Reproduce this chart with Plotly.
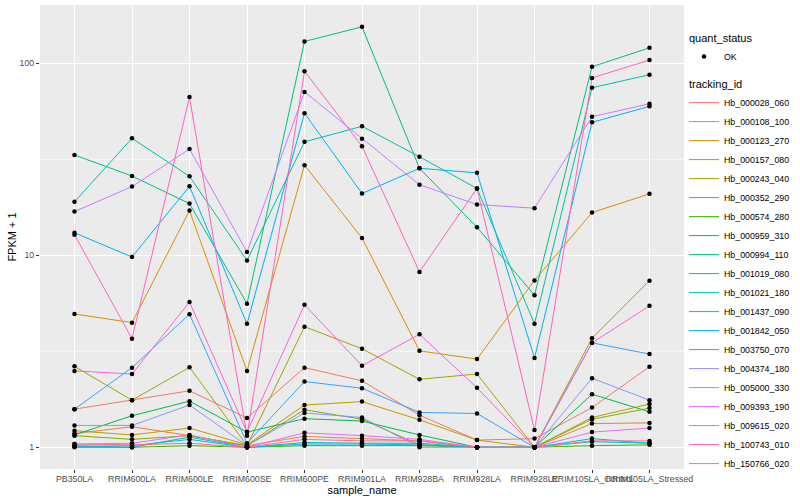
import plotly.graph_objects as go

samples = ["PB350LA", "RRIM600LA", "RRIM600LE", "RRIM600SE", "RRIM600PE", "RRIM901LA",
           "RRIM928BA", "RRIM928LA", "RRIM928LE", "RRIM105LA_Control", "RRIM105LA_Stressed"]

Hb_000028_060 = [1.58, 1.76, 1.97, 1.42, 2.60, 2.22, 1.47, 1.09, 1.11, 1.61, 2.63]
Hb_000108_100 = [1.18, 1.28, 1.15, 1.02, 1.14, 1.11, 1.08, 1.00, 1.00, 1.33, 1.34]
Hb_000123_270 = [4.95, 4.46, 17.1, 2.50, 29.5, 12.3, 3.18, 2.88, 7.40, 16.7, 20.9]
Hb_000157_080 = [1.22, 1.16, 1.26, 1.03, 1.66, 1.73, 1.39, 1.09, 1.00, 1.43, 1.68]
Hb_000243_040 = [2.64, 1.76, 2.61, 1.02, 4.25, 3.26, 2.26, 2.41, 1.00, 3.70, 7.38]
Hb_000352_290 = [1.15, 1.10, 1.15, 1.02, 1.57, 1.40, 1.03, 1.00, 1.00, 1.40, 1.60]
Hb_000574_280 = [1.00, 1.00, 1.02, 1.00, 1.02, 1.02, 1.02, 1.00, 1.00, 1.02, 1.03]
Hb_000959_310 = [1.16, 1.46, 1.74, 1.20, 1.41, 1.37, 1.16, 1.00, 1.00, 1.89, 1.53]
Hb_000994_110 = [33.3, 25.9, 18.6, 5.6, 130.0, 155.0, 28.4, 14.0, 6.2, 96.0, 120.5]
Hb_001019_080 = [19.0, 40.7, 25.8, 9.4, 39.0, 47.0, 32.6, 22.3, 4.4, 74.6, 87.3]
Hb_001021_180 = [1.02, 1.00, 1.13, 1.00, 1.06, 1.05, 1.05, 1.00, 1.00, 1.11, 1.05]
Hb_001437_090 = [1.01, 1.02, 1.10, 1.00, 1.04, 1.04, 1.03, 1.00, 1.00, 1.07, 1.05]
Hb_001842_050 = [13.1, 9.8, 22.9, 4.4, 55.0, 21.0, 28.4, 26.9, 2.92, 49.3, 59.7]
Hb_003750_070 = [1.58, 2.60, 4.94, 1.05, 2.20, 2.03, 1.52, 1.50, 1.00, 3.50, 3.06]
Hb_004374_180 = [1.30, 1.30, 1.66, 1.02, 1.51, 1.43, 1.00, 1.00, 1.00, 2.29, 1.76]
Hb_005000_330 = [16.9, 22.8, 35.8, 10.4, 71.0, 40.5, 23.3, 18.4, 17.6, 52.7, 61.6]
Hb_009393_190 = [1.04, 1.05, 1.16, 1.00, 1.19, 1.15, 1.10, 1.00, 1.00, 1.20, 1.26]
Hb_009615_020 = [2.50, 2.41, 5.71, 1.20, 5.53, 2.66, 3.88, 2.04, 1.00, 3.50, 5.46]
Hb_100743_010 = [12.8, 3.68, 66.7, 1.15, 91.0, 37.0, 8.2, 22.3, 1.23, 84.0, 104.0]
Hb_150766_020 = [1.04, 1.03, 1.05, 1.00, 1.10, 1.08, 1.08, 1.00, 1.00, 1.08, 1.08]

tracking_ids = ["Hb_000028_060", "Hb_000108_100", "Hb_000123_270", "Hb_000157_080", "Hb_000243_040",
                "Hb_000352_290", "Hb_000574_280", "Hb_000959_310", "Hb_000994_110", "Hb_001019_080",
                "Hb_001021_180", "Hb_001437_090", "Hb_001842_050", "Hb_003750_070", "Hb_004374_180",
                "Hb_005000_330", "Hb_009393_190", "Hb_009615_020", "Hb_100743_010", "Hb_150766_020"]
series = [Hb_000028_060, Hb_000108_100, Hb_000123_270, Hb_000157_080, Hb_000243_040,
          Hb_000352_290, Hb_000574_280, Hb_000959_310, Hb_000994_110, Hb_001019_080,
          Hb_001021_180, Hb_001437_090, Hb_001842_050, Hb_003750_070, Hb_004374_180,
          Hb_005000_330, Hb_009393_190, Hb_009615_020, Hb_100743_010, Hb_150766_020]

colors = ["#F8766D", "#EA8331", "#D89000", "#C09B00", "#A3A500", "#7CAE00", "#39B600", "#00BB4E",
          "#00BF7D", "#00C1A3", "#00BFC4", "#00BAE0", "#00B0F6", "#35A2FF", "#9590FF", "#C77CFF",
          "#E76BF3", "#FA62DB", "#FF62BC", "#FF6C91"]

FONT = "Liberation Sans, Arial, sans-serif"
fig = go.Figure()

all_x, all_y = [], []
for vals in series:
    all_x += samples
    all_y += vals

for tid, vals, col in zip(tracking_ids, series, colors):
    fig.add_trace(go.Scatter(
        x=samples, y=vals, mode="lines", name=tid,
        line=dict(color=col, width=1),
        legendgroup="tid", legendgrouptitle=dict(text="tracking_id", font=dict(size=11, color="black")),
        legendrank=2,
    ))

fig.add_trace(go.Scatter(
    x=all_x, y=all_y, mode="markers", name="OK",
    marker=dict(color="black", size=4.5),
    legendgroup="qs", legendgrouptitle=dict(text="quant_status", font=dict(size=11, color="black")),
    legendrank=1,
))

shapes = []
for v in [10 ** 0.5, 10 ** 1.5]:
    shapes.append(dict(type="line", xref="paper", yref="y", x0=0, x1=1, y0=v, y1=v,
                       line=dict(color="white", width=0.6), layer="below"))

fig.update_layout(
    width=800, height=500,
    margin=dict(l=40, r=116, t=5, b=31, autoexpand=False),
    paper_bgcolor="white", plot_bgcolor="#EBEBEB",
    font=dict(family=FONT, size=9, color="#4D4D4D"),
    showlegend=True,
    legend=dict(x=1.0, y=0.961, xanchor="left", yanchor="top",
                font=dict(size=8.8, color="black"), tracegroupgap=8,
                traceorder="grouped", bgcolor="rgba(0,0,0,0)"),
    shapes=shapes,
    xaxis=dict(type="category", categoryorder="array", categoryarray=samples,
               range=[-0.6, 10.6], showgrid=True, gridcolor="white", gridwidth=1.1,
               ticks="outside", ticklen=3, tickcolor="#333333", tickwidth=1,
               tickangle=0, tickfont=dict(size=8.8, color="#4D4D4D"), automargin=False,
               ticklabelstandoff=-2,
               title=dict(text="sample_name", font=dict(size=11, color="black"), standoff=1),
               zeroline=False, showline=False),
    yaxis=dict(type="log", range=[-0.113, 2.304], tickvals=[1, 10, 100], ticktext=["1", "10", "100"],
               showgrid=True, gridcolor="white", gridwidth=1.1,
               ticks="outside", ticklen=3, tickcolor="#333333", tickwidth=1,
               tickfont=dict(size=8.8, color="#4D4D4D"), automargin=False,
               title=dict(text="FPKM + 1", font=dict(size=11, color="black"), standoff=0),
               zeroline=False, showline=False),
)

fig.write_html("out.html", config={"displayModeBar": False},
               post_script="document.body.style.margin='0';document.body.style.padding='0';")
